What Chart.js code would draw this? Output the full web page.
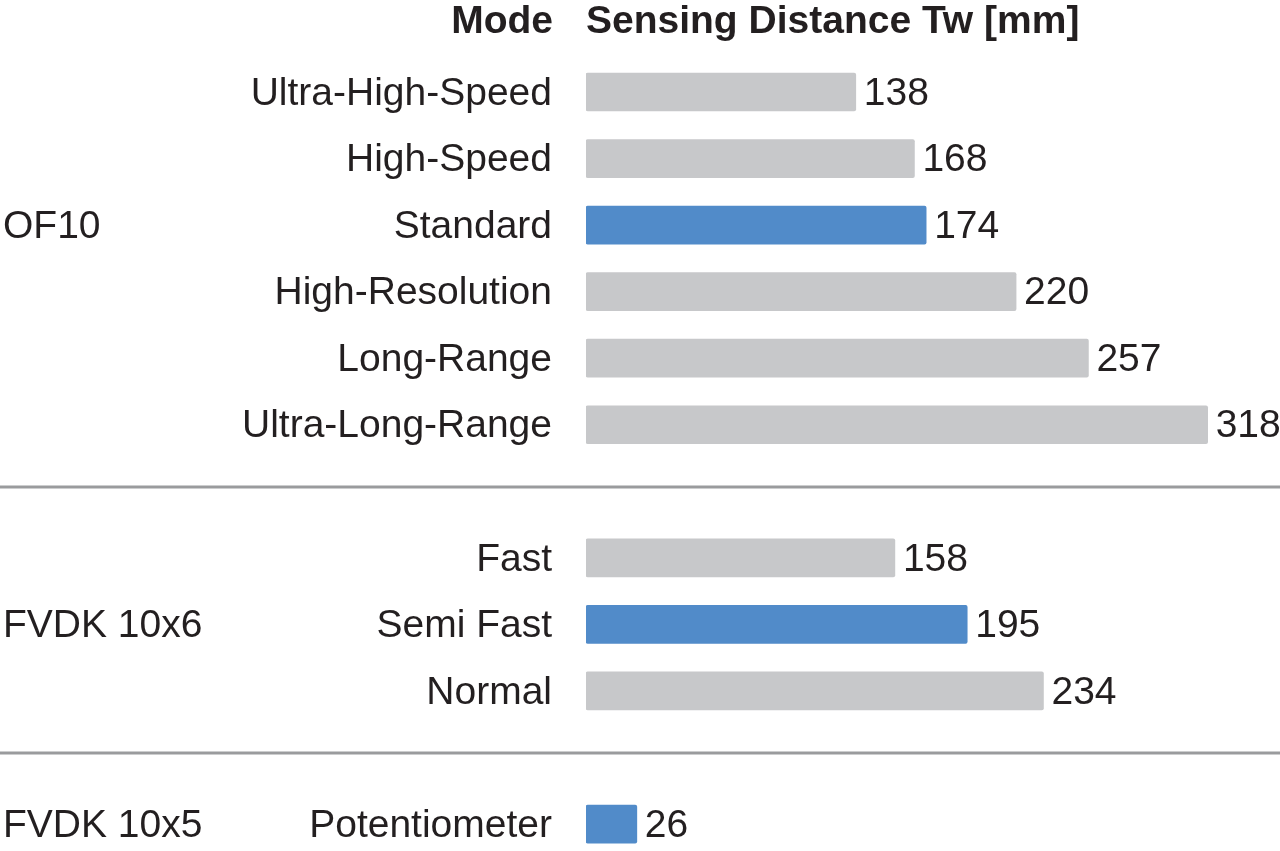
<!DOCTYPE html>
<html>
<head>
<meta charset="utf-8">
<script src="https://cdn.jsdelivr.net/npm/chart.js@4"></script>
<style>
  html, body { margin: 0; padding: 0; background: #fff; }
  #wrap { width: 1280px; height: 851px; }
</style>
</head>
<body>
<div id="wrap"><canvas id="chart" width="1280" height="851"></canvas></div>
<script>
// rows of the chart, '' = empty spacer row between groups
const modes = ['Ultra-High-Speed', 'High-Speed', 'Standard', 'High-Resolution', 'Long-Range', 'Ultra-Long-Range',
  '', 'Fast', 'Semi Fast', 'Normal', '', 'Potentiometer'];
const distance = [138, 168, 174, 220, 257, 318, null, 158, 195, 234, null, 26];
const highlighted = ['Standard', 'Semi Fast', 'Potentiometer'];
const sensors = ['OF10', 'FVDK 10x6', 'FVDK 10x5'];
const sensorRow = ['Standard', 'Semi Fast', 'Potentiometer'];
const headerMode = 'Mode';
const headerValue = 'Sensing Distance Tw [mm]';

const FONT = "'Liberation Sans', Arial, Helvetica, sans-serif";
const TEXT = '#231f20';
const GRAY = '#c7c8ca';
const BLUE = '#518bc9';

const points = [];
const colors = [];
distance.forEach(function(v, i) {
  if (v === null) return;
  points.push({ x: v, y: i });
  colors.push(highlighted.includes(modes[i]) ? BLUE : GRAY);
});

// header, group names, separators and value labels
const extras = {
  id: 'extras',
  afterDatasetsDraw(chart) {
    const ctx = chart.ctx;
    const y = chart.scales.y;
    const area = chart.chartArea;
    ctx.save();

    // separator lines between sensor groups
    ctx.strokeStyle = '#9a9b9d';
    ctx.lineWidth = 3;
    modes.forEach(function(m, i) {
      if (m !== '') return;
      const py = Math.round(y.getPixelForValue(i)) - 4;
      ctx.beginPath();
      ctx.moveTo(0, py);
      ctx.lineTo(chart.width, py);
      ctx.stroke();
    });

    ctx.fillStyle = TEXT;
    ctx.textBaseline = 'middle';

    // headers
    ctx.font = 'bold 39px ' + FONT;
    const hy = y.getPixelForValue(-1) - 3;
    ctx.textAlign = 'right';
    ctx.fillText(headerMode, area.left - 33, hy);
    ctx.textAlign = 'left';
    ctx.fillText(headerValue, area.left, hy);

    // sensor names
    ctx.font = '39px ' + FONT;
    sensors.forEach(function(s, k) {
      ctx.fillText(s, 3, y.getPixelForValue(modes.indexOf(sensorRow[k])) + 2);
    });

    // values at bar ends
    const meta = chart.getDatasetMeta(0);
    meta.data.forEach(function(bar, k) {
      ctx.fillText(String(points[k].x), bar.x + 8, bar.y + 2);
    });
    ctx.restore();
  }
};

new Chart(document.getElementById('chart'), {
  type: 'bar',
  data: {
    datasets: [{
      data: points,
      backgroundColor: colors,
      barThickness: 38,
      borderRadius: 2,
      borderSkipped: false
    }]
  },
  options: {
    indexAxis: 'y',
    responsive: false,
    animation: false,
    devicePixelRatio: 1,
    layout: { padding: 0 },
    plugins: {
      legend: { display: false },
      tooltip: { enabled: false }
    },
    scales: {
      x: {
        type: 'linear',
        display: false,
        min: 0,
        max: 355
      },
      y: {
        type: 'linear',
        reverse: true,
        offset: false,
        grace: 0,
        min: -1.3824,
        max: 11.405,
        afterFit: function(s) {
          s.width = 586;
          s.paddingTop = 0;
          s.paddingBottom = 0;
        },
        afterBuildTicks: function(s) {
          s.ticks = modes.map(function(m, i) { return { value: i }; });
        },
        grid: { display: false, drawTicks: false, offset: false },
        border: { display: false },
        ticks: {
          autoSkip: false,
          padding: 34,
          labelOffset: 2,
          color: TEXT,
          font: { family: FONT, size: 39 },
          callback: function(v) { return modes[v] || ''; }
        }
      }
    }
  },
  plugins: [extras]
});
</script>
</body>
</html>
